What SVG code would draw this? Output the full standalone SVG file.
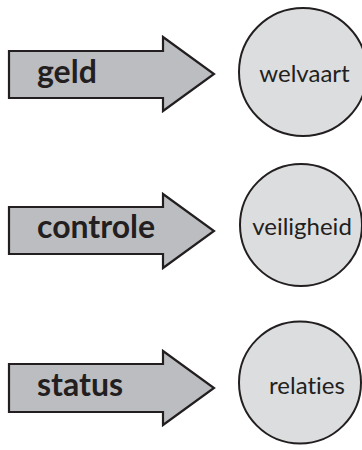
<svg xmlns="http://www.w3.org/2000/svg" width="362" height="450" viewBox="0 0 362 450">
<style>
.arrow{fill:#bcbdc0;stroke:#231f20;stroke-width:2.2;stroke-linejoin:miter}
.circ{fill:#dcdddf;stroke:#231f20;stroke-width:2}
text{font-variant-ligatures:none;font-family:Lato,"Open Sans",sans-serif;fill:#231f20}
.lb{font-weight:bold;font-size:32px}
.lc{font-size:24px;text-anchor:middle}
</style>
<rect width="362" height="450" fill="#ffffff"/>
<g id="connectors">
<g id="arrow-geld"><path class="arrow" d="M9,51 H163 V37 L214,74 L163,111 V98 H9 Z"/><text class="lb" x="37" y="83">geld</text></g>
<g id="arrow-controle"><path class="arrow" d="M9,207 H163 V194 L214,231 L163,268 V254 H9 Z"/><text class="lb" x="37" y="238">controle</text></g>
<g id="arrow-status"><path class="arrow" d="M9,364 H163 V351 L214,388 L163,425 V412 H9 Z"/><text class="lb" x="37" y="396">status</text></g>
</g>
<g id="node-welvaart"><circle class="circ" cx="303" cy="72" r="64"/><text class="lc" x="304.5" y="82">welvaart</text></g>
<g id="node-veiligheid"><circle class="circ" cx="301" cy="225" r="61"/><text class="lc" x="302" y="235">veiligheid</text></g>
<g id="node-relaties"><circle class="circ" cx="300" cy="382.5" r="61"/><text class="lc" x="307" y="394">relaties</text></g>
</svg>
